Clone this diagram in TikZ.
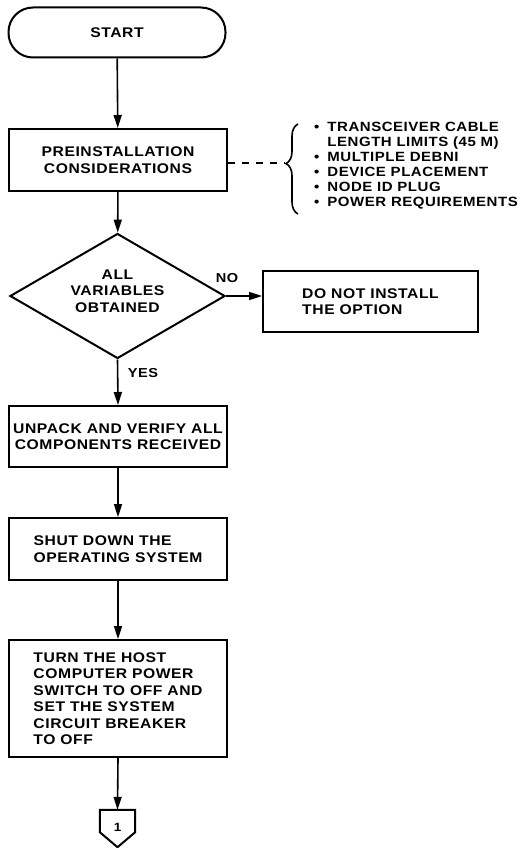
\documentclass[tikz,border=0pt]{standalone}
\usepackage{fontspec}
\setmainfont{Liberation Sans}[FakeStretch=1.12,LetterSpace=4]
\usetikzlibrary{arrows.meta,shapes.geometric,decorations.pathreplacing}
\begin{document}
\begin{tikzpicture}[x=1pt,y=-1pt,
  every node/.style={font=\fontsize{14}{16.5}\selectfont\bfseries},
  stepbox/.style={draw,line width=2pt,minimum width=218pt,inner sep=0pt,align=left},
  flow/.style={line width=1.6pt,-{Triangle[length=13pt,width=8pt]}},
  tag/.style={font=\fontsize{13}{15}\selectfont\bfseries}
]
\useasboundingbox (0,0) rectangle (528,848);

% terminal
\node[draw,line width=2pt,rounded corners=24.5pt,minimum width=217pt,minimum height=50pt,inner sep=0pt]
  (start) at (117,32.5) {START};

% process steps
\node[stepbox,minimum height=62pt,align=center] (pre) at (118,160) {PREINSTALLATION\\CONSIDERATIONS};

% decision: outline sized explicitly, question set on top of it
\node[draw,line width=2pt,diamond,minimum width=215pt,minimum height=125pt,inner sep=0pt]
  (dec) at (117.5,296) {};
\node[align=center,inner sep=0pt] (dectext) at (117.5,291) {ALL\\VARIABLES\\OBTAINED};

\node[stepbox,minimum width=215pt,minimum height=61pt] (noinst) at (370.5,301.5) {DO NOT INSTALL\\THE OPTION};

\node[stepbox,minimum height=61pt,align=center] (unpack) at (118,436.5) {UNPACK AND VERIFY ALL\\COMPONENTS RECEIVED};

\node[stepbox,minimum height=62pt] (shut) at (118,549) {SHUT DOWN THE\\OPERATING SYSTEM};

\node[stepbox,minimum height=117pt] (turn) at (118,698.5)
  {TURN THE HOST\\COMPUTER POWER\\SWITCH TO OFF AND\\SET THE SYSTEM\\CIRCUIT BREAKER\\TO OFF};

% off-page connector
\node[minimum width=35pt,minimum height=37pt,inner sep=0pt] (conn) at (117.5,828.5) {};
\draw[line width=2pt,line join=miter]
  (conn.north west) -- (conn.north east) -- ([yshift=15pt]conn.south east)
  -- (conn.south) -- ([yshift=15pt]conn.south west) -- cycle;
\node[font=\fontsize{12}{14}\selectfont\bfseries,inner sep=0pt] (one) at (117.5,827) {1};

% notes
\coordinate (bt) at (298,124);
\coordinate (bb) at (298,214);
\coordinate (tip) at (285,163);
\draw[line width=1.6pt,decorate,decoration={brace,amplitude=12pt,aspect=0.56}] (bb) -- (bt);
\node[anchor=north west,inner sep=0pt] (notes) at (314,121)
  {\fontsize{13.4}{14.9}\selectfont\bfseries
   \begin{tabular}{@{}l@{\hspace{8pt}}l@{}}
   • & TRANSCEIVER CABLE\\
     & LENGTH LIMITS (45 M)\\
   • & MULTIPLE DEBNI\\
   • & DEVICE PLACEMENT\\
   • & NODE ID PLUG\\
   • & POWER REQUIREMENTS
   \end{tabular}};

% connectors
\draw[flow] (start) -- (pre);
\draw[line width=1.6pt,dash pattern=on 7pt off 7pt] (tip -| pre.east) -- (tip);
\draw[flow] (pre) -- (dec);
\draw[flow] (dec.east) -- (dec.east -| noinst.west);
\draw[flow] (dec.south) -- (unpack.north);
\draw[flow] (unpack) -- (shut);
\draw[flow] (shut) -- (turn);
\draw[flow] (turn.south) -- (conn.north);

% branch labels
\node[tag] (no) at (227,278) {NO};
\node[tag] (yes) at (143,373) {YES};
\end{tikzpicture}
\end{document}
